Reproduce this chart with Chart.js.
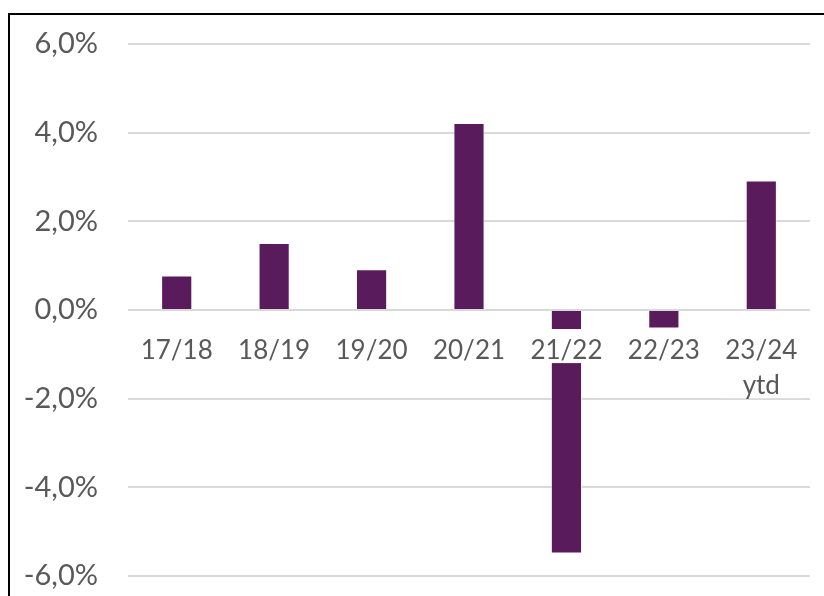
<!DOCTYPE html>
<html>
<head>
<meta charset="utf-8">
<script src="https://cdn.jsdelivr.net/npm/chart.js@4"></script>
<style>
  html, body { margin: 0; padding: 0; background: #fff; overflow: hidden; }
  #wrap { position: absolute; left: 0; top: 0; width: 824px; height: 596px; }
  #frame { position: absolute; left: 8px; top: 13px; width: 900px; height: 700px;
           border: 2px solid #000; box-sizing: border-box; pointer-events: none; }
</style>
</head>
<body>
<div id="wrap">
  <canvas id="chart" width="824" height="596"></canvas>
  <div id="frame"></div>
</div>
<script>
const seasons = ['17/18', '18/19', '19/20', '20/21', '21/22', '22/23', ['23/24', 'ytd']];
const growth = [0.78, 1.51, 0.92, 4.22, -5.49, -0.42, 2.92];
const yTicks = [-6, -4, -2, 0, 2, 4, 6];

const textGrey = '#595959';
const gridGrey = '#d9d9d9';
const xFont = { family: 'Lato', size: 26, lineHeight: 1.35 };
const xPad = 15;
const boxTop = 19;

// white boxes behind the category labels, drawn over the bars (like Excel does)
const labelBackdrop = {
    id: 'labelBackdrop',
    afterDatasetsDraw(chart) {
        const c = chart.ctx;
        const xs = chart.scales.x;
        const top = chart.scales.y.getPixelForValue(0) + boxTop;
        const lh = xFont.size * xFont.lineHeight;
        c.save();
        c.font = xFont.size + 'px ' + xFont.family;
        c.fillStyle = '#ffffff';
        chart.data.labels.forEach((lab, i) => {
            const lines = Array.isArray(lab) ? lab : [lab];
            const w = Math.max(...lines.map(l => c.measureText(l).width)) + 10;
            const cx = xs.getPixelForTick(i);
            c.fillRect(cx - w / 2, top, w, lines.length * lh - 1);
        });
        c.restore();
    }
};

const ctx = document.getElementById('chart').getContext('2d');
new Chart(ctx, {
    type: 'bar',
    data: {
        labels: seasons,
        datasets: [{
            data: growth,
            backgroundColor: '#5a1b5d',
            borderColor: 'rgba(255,255,255,0.6)',
            borderWidth: 1,
            categoryPercentage: 1,
            barPercentage: 0.32
        }]
    },
    plugins: [labelBackdrop],
    options: {
        responsive: false,
        animation: false,
        layout: { padding: { left: 0, right: 14, top: 44, bottom: 20 } },
        plugins: {
            legend: { display: false },
            tooltip: { enabled: false }
        },
        scales: {
            x: {
                position: { y: 0 },
                grid: { display: false },
                border: { display: false },
                ticks: {
                    z: 1,
                    color: textGrey,
                    font: xFont,
                    padding: xPad,
                    maxRotation: 0,
                    autoSkip: false
                }
            },
            y: {
                min: -6,
                max: 6,
                afterBuildTicks: axis => { axis.ticks = yTicks.map(v => ({ value: v })); },
                afterFit: axis => {
                    axis.width = 128;
                    axis.paddingTop = 0;
                    axis.paddingBottom = 0;
                },
                grid: { color: gridGrey, lineWidth: 2, drawTicks: false },
                border: { display: false },
                ticks: {
                    color: textGrey,
                    font: { family: 'Lato', size: 29 },
                    padding: 30,
                    callback: v => v.toFixed(1).replace('.', ',') + '%'
                }
            }
        }
    }
});
</script>
</body>
</html>
